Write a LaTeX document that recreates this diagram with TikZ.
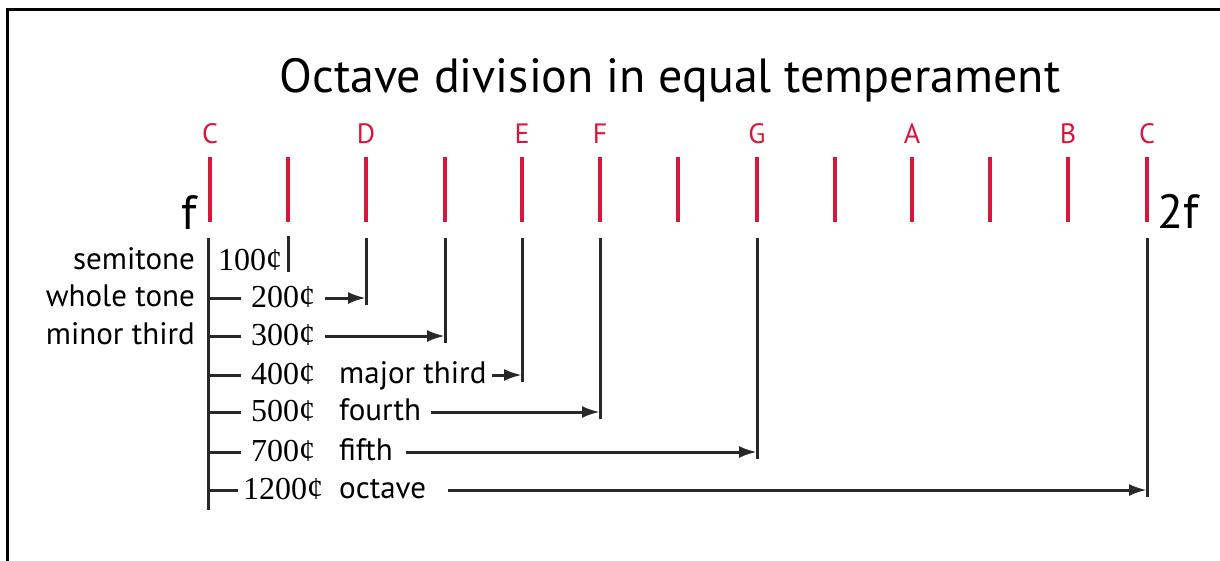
\documentclass[tikz,border=0pt]{standalone}
\usepackage{fontspec}
\setmainfont{PT Sans}
\newfontfamily\centfont{Liberation Serif}
\usetikzlibrary{arrows.meta}
\definecolor{noteRed}{RGB}{214,22,58}
\definecolor{lineGray}{RGB}{40,40,40}

\begin{document}
\begin{tikzpicture}[x=1pt, y=-1pt,
	every node/.style={inner sep=0pt, anchor=base},
	frame/.style={draw=black, line width=3pt},
	note/.style={text=noteRed, font=\fontsize{28}{30}\selectfont},
	tick/.style={draw=noteRed, line width=4pt},
	big/.style={font=\fontsize{48}{52}\selectfont},
	stepname/.style={anchor=base east, font=\fontsize{31}{34}\selectfont},
	cents/.style={anchor=base west, font=\centfont\fontsize{32}{34}\selectfont},
	interval/.style={anchor=base west, font=\fontsize{31}{34}\selectfont},
	conn/.style={draw=lineGray, line width=3pt},
	arr/.style={conn, -{Latex[length=18pt, width=12pt]}}
	]
	\useasboundingbox (0,0) rectangle (1220,560);
	\draw[frame] (7,9) rectangle (1240,580);

	% Title and note names
	\node[big] (title) at (670,92) {Octave division in equal temperament};
	\node[note] (nC) at (210,143) {C};
	\node[note] (nD) at (366,143) {D};
	\node[note] (nE) at (522,143) {E};
	\node[note] (nF) at (600,143) {F};
	\node[note] (nG) at (757,143) {G};
	\node[note] (nA) at (912,143) {A};
	\node[note] (nB) at (1068,143) {B};
	\node[note] (nCC) at (1147,143) {C};

	% Semitone ticks
	\draw[tick] (210,157) -- (210,222) (288,157) -- (288,222)
		(366,157) -- (366,222) (445,157) -- (445,222)
		(522,157) -- (522,222) (600,157) -- (600,222)
		(678,157) -- (678,222) (757,157) -- (757,222)
		(835,157) -- (835,222) (912,157) -- (912,222)
		(990,157) -- (990,222) (1068,157) -- (1068,222)
		(1147,157) -- (1147,222);
	\node[big] (f) at (189,229) {f};
	\node[big] (ff) at (1178,228) {2f};

	% Drop points under the ticks
	\coordinate (t1) at (288,236);
	\coordinate (t2) at (366,238);
	\coordinate (t3) at (445,238);
	\coordinate (t4) at (522,238);
	\coordinate (t5) at (600,238);
	\coordinate (t7) at (757,238);
	\coordinate (t12) at (1147,238);
	\coordinate (top) at (208,238);
	\coordinate (bot) at (208,510);

	% Rows on the trunk
	\coordinate (r1) at (208,262);
	\coordinate (r2) at (208,298);
	\coordinate (r3) at (208,336);
	\coordinate (r4) at (208,375);
	\coordinate (r5) at (208,412);
	\coordinate (r6) at (208,452);
	\coordinate (r7) at (208,490);

	% Interval names and cents
	\node[stepname] (semi) at (195,269) {semitone};
	\node[stepname] (whole) at (195,306) {whole tone};
	\node[stepname] (minor) at (195,344) {minor third};
	\node[cents] (c100) at (218,270) {100¢};
	\node[cents] (c200) at (251,307) {200¢};
	\node[cents] (c300) at (251,345) {300¢};
	\node[cents] (c400) at (251,384) {400¢};
	\node[cents] (c500) at (251,421) {500¢};
	\node[cents] (c700) at (251,461) {700¢};
	\node[cents] (c1200) at (243,499) {1200¢};
	\node[interval] (major) at (339,383) {major third};
	\node[interval] (fourth) at (339,420) {fourth};
	\node[interval] (fifth) at (339,460) {fifth};
	\node[interval] (octave) at (339,498) {octave};

	% Trunk and branches
	\draw[conn] (top) -- (bot);
	\draw[conn] (r2) -- ([xshift=-10pt]c200.west |- r2);
	\draw[conn] (r3) -- ([xshift=-10pt]c300.west |- r3);
	\draw[conn] (r4) -- ([xshift=-10pt]c400.west |- r4);
	\draw[conn] (r5) -- ([xshift=-10pt]c500.west |- r5);
	\draw[conn] (r6) -- ([xshift=-10pt]c700.west |- r6);
	\draw[conn] (r7) -- ([xshift=-5pt]c1200.west |- r7);

	% Drops and arrows
	\draw[conn] (t1) -- ([yshift=-10pt]r1 -| t1);
	\draw[conn] (t2) -- ([yshift=-7pt]r2 -| t2);
	\draw[conn] (t3) -- ([yshift=-7pt]r3 -| t3);
	\draw[conn] (t4) -- ([yshift=-7pt]r4 -| t4);
	\draw[conn] (t5) -- ([yshift=-7pt]r5 -| t5);
	\draw[conn] (t7) -- ([yshift=-7pt]r6 -| t7);
	\draw[conn] (t12) -- ([yshift=-7pt]r7 -| t12);
	\draw[arr] ([xshift=10pt]c200.east |- r2) -- (r2 -| t2);
	\draw[arr] ([xshift=10pt]c300.east |- r3) -- (r3 -| t3);
	\draw[arr] ([xshift=5pt]major.east |- r4) -- (r4 -| t4);
	\draw[arr] ([xshift=10pt]fourth.east |- r5) -- (r5 -| t5);
	\draw[arr] ([xshift=13pt]fifth.east |- r6) -- (r6 -| t7);
	\draw[arr] ([xshift=22pt]octave.east |- r7) -- (r7 -| t12);
\end{tikzpicture}
\end{document}
